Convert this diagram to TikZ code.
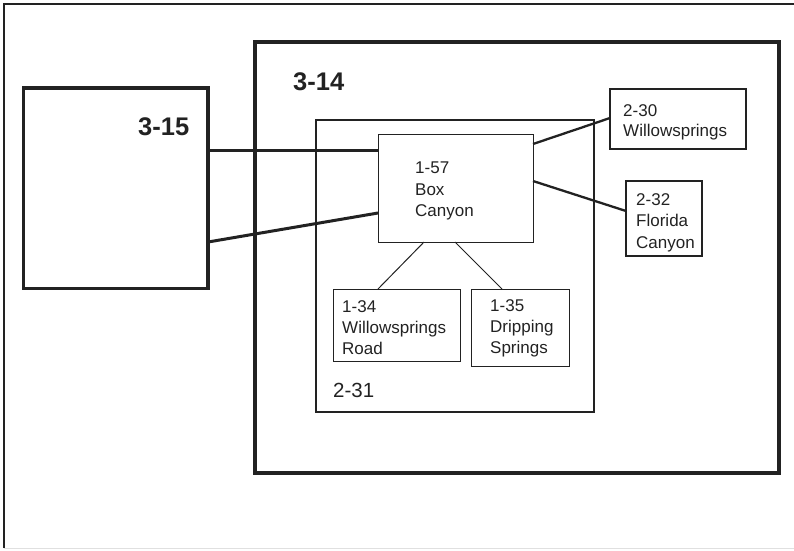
\documentclass[tikz,border=0pt]{standalone}
\usepackage{fontspec}
\setmainfont{Liberation Sans}
\definecolor{ink}{HTML}{222222}
\begin{document}
\begin{tikzpicture}[x=1pt,y=-1pt,
  box/.style={draw=ink, inner sep=0pt, outer sep=0pt, anchor=north west},
  txt/.style={anchor=north west, align=left, inner sep=0pt, text=ink, font=\fontsize{17}{21.5}\selectfont},
  big/.style={anchor=north west, inner sep=0pt, text=ink, font=\bfseries\fontsize{25.5}{30}\selectfont},
  link/.style={draw=ink}]
\useasboundingbox (0,0) rectangle (794,550);
% page frame
\draw[ink, line width=2pt] (4,548) -- (4,4) -- (794,4);
\draw[black!12, line width=1.5pt] (4,548.5) -- (794,548.5);
% boxes
\node[box, line width=3.3pt, minimum width=184.5, minimum height=200.5] (b315) at (23.5,88) {};
\node[box, line width=3.3pt, minimum width=524, minimum height=431] (b314) at (255,42) {};
\node[box, line width=2pt, minimum width=278, minimum height=292] (b231) at (316,120) {};
\node[box, line width=1pt, minimum width=155, minimum height=107.5] (b157) at (378,134.5) {};
\node[box, line width=2.3pt, minimum width=136, minimum height=60] (b230) at (610,89) {};
\node[box, line width=2.3pt, minimum width=76, minimum height=75] (b232) at (626,181) {};
\node[box, line width=1pt, minimum width=127, minimum height=72] (b134) at (333,289) {};
\node[box, line width=1pt, minimum width=98, minimum height=77] (b135) at (471,289) {};
% labels
\node[big] (l315) at (138,117) {3-15};
\node[big] (l314) at (293,72) {3-14};
\node[anchor=north west, inner sep=0pt, text=ink, font=\fontsize{20.5}{24}\selectfont] (l231) at (333,383) {2-31};
\node[txt] (t157) at (415,162) {1-57\\Box\\Canyon};
\node[txt, font=\fontsize{17}{20}\selectfont] (t230) at (623,104) {2-30\\Willowsprings};
\node[txt] (t232) at (636,193) {2-32\\Florida\\Canyon};
\node[txt, font=\fontsize{17}{21}\selectfont] (t134) at (342,300) {1-34\\Willowsprings\\Road};
\node[txt, font=\fontsize{17}{21}\selectfont] (t135) at (490,299) {1-35\\Dripping\\Springs};
% connectors
\draw[link, line width=3pt] ([yshift=-62pt]b315.north east) -- ([yshift=-15.5pt]b157.north west);
\draw[link, line width=3pt] ([yshift=-154pt]b315.north east) -- ([yshift=-78.5pt]b157.north west);
\draw[link, line width=2.3pt] ([yshift=-9.5pt]b157.north east) -- ([yshift=-29pt]b230.north west);
\draw[link, line width=2.3pt] ([yshift=-46.5pt]b157.north east) -- ([yshift=-30pt]b232.north west);
\draw[link, line width=1pt] ([xshift=46pt]b157.south west) -- ([xshift=45pt]b134.north west);
\draw[link, line width=1pt] ([xshift=77pt]b157.south west) -- ([xshift=31pt]b135.north west);
\end{tikzpicture}
\end{document}
